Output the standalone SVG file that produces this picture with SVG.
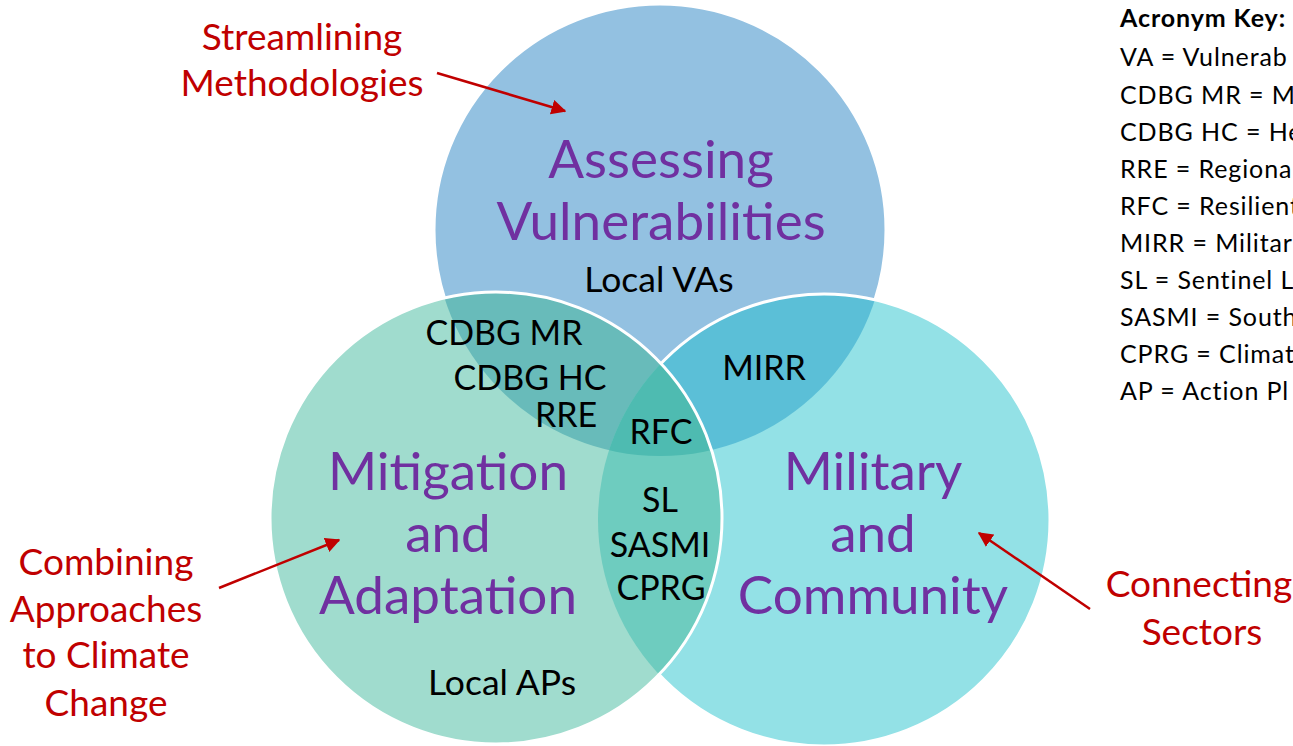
<svg xmlns="http://www.w3.org/2000/svg" width="1293" height="746" viewBox="0 0 1293 746">
<style>
text{font-family:Lato,"Open Sans","Liberation Sans",sans-serif}
.big{font-size:53px;fill:#7030A0;text-anchor:middle}
.mid{font-size:34px;fill:#000;text-anchor:middle}
.loc{font-size:35.5px;fill:#000;text-anchor:middle}
.red{font-size:37px;fill:#C00000;text-anchor:middle}
.key{font-size:25px;fill:#000;letter-spacing:0.9px}
.edge{fill:none;stroke:#fff;stroke-width:3}
.arrow{stroke:#C00000;stroke-width:2.5;fill:none;marker-end:url(#ah)}
</style>
<defs>
<marker id="ah" viewBox="0 0 10 10" refX="9" refY="5" markerWidth="6" markerHeight="6" orient="auto" markerUnits="strokeWidth">
<path d="M0,0 L10,5 L0,10 z" fill="#C00000"/>
</marker>
<clipPath id="cT"><circle cx="660" cy="230" r="226"/></clipPath>
<clipPath id="cR"><circle cx="824" cy="520" r="226"/></clipPath>
<clipPath id="cL"><circle cx="496" cy="518" r="226"/></clipPath>
</defs>
<rect width="1293" height="746" fill="#fff"/>
<g id="circle-top">
<circle cx="660" cy="230" r="226" fill="#93C1E1"/>
<circle cx="660" cy="230" r="226" class="edge"/>
</g>
<g id="circle-right">
<circle cx="824" cy="520" r="226" fill="#93E1E6"/>
<circle cx="824" cy="520" r="226" fill="#5BBFD7" clip-path="url(#cT)"/>
<circle cx="824" cy="520" r="226" class="edge"/>
</g>
<g id="circle-left">
<circle cx="496" cy="518" r="226" fill="#A0DCCE"/>
<circle cx="496" cy="518" r="226" fill="#68BBBA" clip-path="url(#cT)"/>
<circle cx="496" cy="518" r="226" fill="#6ECCBF" clip-path="url(#cR)"/>
<g clip-path="url(#cT)"><circle cx="496" cy="518" r="226" fill="#4EBBB1" clip-path="url(#cR)"/></g>
<circle cx="496" cy="518" r="226" class="edge"/>
</g>
<g id="label-top">
<text class="big" x="661" y="178">Assessing</text>
<text class="big" x="661" y="240">Vulnerabilities</text>
<text class="loc" x="659" y="292">Local VAs</text>
</g>
<g id="label-left">
<text class="big" x="448" y="490">Mitigation</text>
<text class="big" x="448" y="552">and</text>
<text class="big" x="448" y="614">Adaptation</text>
<text class="loc" x="502" y="695">Local APs</text>
</g>
<g id="label-right">
<text class="big" x="873" y="490">Military</text>
<text class="big" x="873" y="552">and</text>
<text class="big" x="873" y="614">Community</text>
</g>
<g id="overlap-top-left">
<text class="mid" x="504" y="345">CDBG MR</text>
<text class="mid" x="530" y="390">CDBG HC</text>
<text class="mid" x="566" y="427">RRE</text>
</g>
<g id="overlap-top-right">
<text class="mid" x="764" y="380">MIRR</text>
</g>
<g id="overlap-center">
<text class="mid" x="661" y="444">RFC</text>
</g>
<g id="overlap-left-right">
<text class="mid" x="660" y="512">SL</text>
<text class="mid" x="660" y="557">SASMI</text>
<text class="mid" x="661" y="600">CPRG</text>
</g>
<g id="callout-streamlining">
<text class="red" x="302" y="50">Streamlining</text>
<text class="red" x="302" y="96">Methodologies</text>
</g>
<g id="callout-combining">
<text class="red" x="106" y="575">Combining</text>
<text class="red" x="106" y="622">Approaches</text>
<text class="red" x="106" y="668">to Climate</text>
<text class="red" x="106" y="716">Change</text>
</g>
<g id="callout-connecting">
<text class="red" x="1199" y="597">Connecting</text>
<text class="red" x="1202" y="645">Sectors</text>
</g>
<g id="connectors">
<line class="arrow" x1="437" y1="73" x2="565" y2="111"/>
<line class="arrow" x1="219" y1="588" x2="339" y2="540"/>
<line class="arrow" x1="1090" y1="609" x2="979" y2="533"/>
</g>
<g id="acronym-key">
<text class="key" x="1120" y="27" font-weight="bold">Acronym Key:</text>
<text class="key" x="1120" y="66">VA = Vulnerab</text>
<text class="key" x="1120" y="104">CDBG MR = M</text>
<text class="key" x="1120" y="141">CDBG HC = He</text>
<text class="key" x="1120" y="178">RRE = Regiona</text>
<text class="key" x="1120" y="215">RFC = Resilient</text>
<text class="key" x="1120" y="252">MIRR = Militar</text>
<text class="key" x="1120" y="289">SL = Sentinel L</text>
<text class="key" x="1120" y="326">SASMI = South</text>
<text class="key" x="1120" y="363">CPRG = Climat</text>
<text class="key" x="1120" y="400">AP = Action Pl</text>
</g>
</svg>
